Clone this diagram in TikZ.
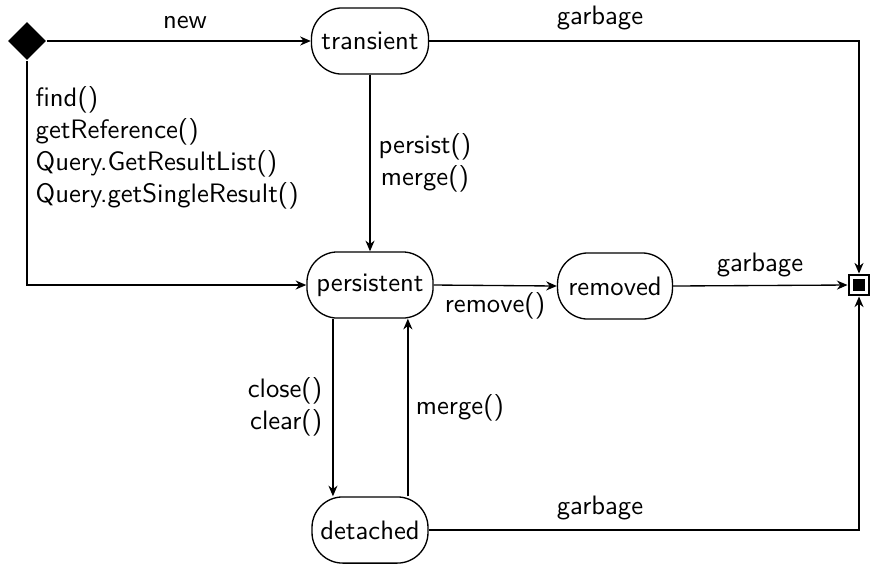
\documentclass[tikz,border=0pt]{standalone}
\usetikzlibrary{arrows.meta,shapes.geometric}
\begin{document}
\begin{tikzpicture}[
  x=0.375pt, y=-0.375pt,
  font=\sffamily,
  line width=0.5pt,
  >={Stealth[length=4pt,width=3.4pt,inset=1.3pt]},
  state/.style={draw, rectangle, rounded corners=11.5pt, minimum height=24.8pt, inner sep=0pt},
  lbl/.style={inner sep=0pt},
]
\useasboundingbox (0,0) rectangle (870,563);

% initial pseudo-state and final state
\node[diamond, fill=black, minimum size=14.4pt, inner sep=0pt] (start) at (27,41) {};
\node[draw, line width=1.1pt, minimum size=7.5pt, inner sep=0pt] (end) at (859,285) {};
\fill (end.center) +(-2.2pt,-2.2pt) rectangle +(2.2pt,2.2pt);

% entity states
\node[state, minimum width=43.9pt] (transient) at (370,41) {transient};
\node[state, minimum width=47.3pt] (persistent) at (370,285) {persistent};
\node[state, minimum width=43.1pt] (removed) at (615,286) {removed};
\node[state, minimum width=43.5pt] (detached) at (370,530) {detached};

% transitions
\draw[->] (start.east) -- (transient.west);
\draw[->] (start.south) |- (persistent.west);
\draw[->] (transient) -- (persistent);
\draw[->] (transient.east) -| (end.north);
\draw[->] (persistent.east) -- (removed.west);
\draw[->] (removed.east) -- (end.west);
\draw[->] ([xshift=-13.9pt]persistent.south) -- ([xshift=-13.9pt]detached.north);
\draw[->] ([xshift=14.2pt]detached.north) -- ([xshift=14.2pt]persistent.south);
\draw[->] (detached.east) -| (end.south);

% transition labels
\node[lbl] (lnew) at (185,22) {new};
\node[lbl, align=left, anchor=west] (lfind) at (35,148) {find()\\getReference()\\Query.GetResultList()\\Query.getSingleResult()};
\node[lbl] (lgarb1) at (600,18) {garbage};
\node[lbl, align=center] (lpersist) at (425,163) {persist()\\merge()};
\node[lbl] (lremove) at (495,306) {remove()};
\node[lbl] (lgarb2) at (760,265) {garbage};
\node[lbl, align=right] (lclose) at (285,407) {close()\\clear()};
\node[lbl] (lmerge) at (460,408) {merge()};
\node[lbl] (lgarb3) at (600,508) {garbage};
\end{tikzpicture}
\end{document}
